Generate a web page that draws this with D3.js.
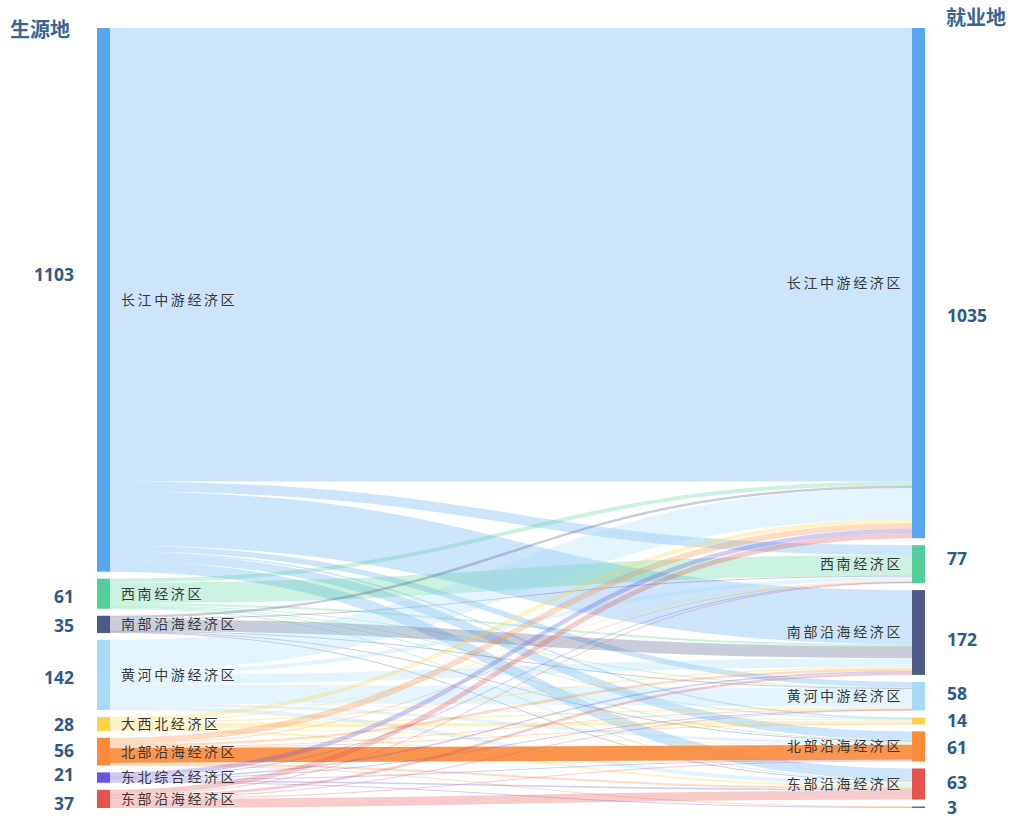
<!DOCTYPE html>
<html>
<head>
<meta charset="utf-8">
<script src="https://cdn.jsdelivr.net/npm/d3@7"></script>
<style>
  html, body { margin: 0; padding: 0; background: #fff; }
  svg { display: block; }
</style>
</head>
<body>
<svg id="chart" width="1017" height="819"></svg>
<script>
// ---------- DATA ----------
const sourceNodes = ["长江中游经济区","西南经济区","南部沿海经济区","黄河中游经济区","大西北经济区","北部沿海经济区","东北综合经济区","东部沿海经济区"];
const targetNodes = ["长江中游经济区","西南经济区","南部沿海经济区","黄河中游经济区","大西北经济区","北部沿海经济区","东部沿海经济区","东北综合经济区"];
const sourceTotals = [1103, 61, 35, 142, 28, 56, 21, 37];
const targetTotals = [1035, 77, 172, 58, 14, 61, 63, 3];
// rows: sourceNodes order, columns: targetNodes order
const flows = [
  [920, 20, 110, 11, 3, 17, 22, 0],
  [8, 42, 4, 2, 1, 2, 2, 0],
  [5, 2, 24, 1, 0, 1, 2, 0],
  [63, 8, 18, 37, 2, 6, 8, 0],
  [8, 2, 3, 3, 7, 1, 4, 0],
  [12, 1, 5, 2, 1, 30, 4, 1],
  [9, 1, 3, 1, 0, 2, 3, 2],
  [10, 1, 5, 1, 0, 2, 18, 0]
];
const leftTitle = "生源地";
const rightTitle = "就业地";

// ---------- STYLE ----------
const colorOf = {
  "长江中游经济区": "#55a8ee",
  "西南经济区": "#52cf98",
  "南部沿海经济区": "#4b5b86",
  "黄河中游经济区": "#a6daf7",
  "大西北经济区": "#fdd347",
  "北部沿海经济区": "#fb8a3a",
  "东北综合经济区": "#6655e0",
  "东部沿海经济区": "#e5534f"
};
const plotTop = 28, plotBottom = 808, gap = 7, nodeW = 13;
const leftX = 97, rightX = 912;
const leftValOffset = [-25, 3, 1, 3, 1, -1, -3, 5];
const rightValOffset = [33, -5, 7, -2, 0, 1, -1, 1];

const svg = d3.select("#chart");
const total = d3.sum(sourceTotals);
const k = d3.scaleLinear().domain([0, total]).range([0, (plotBottom - plotTop) - gap * (sourceNodes.length - 1)]);

function layoutColumn(names, totals, x) {
  let y = plotTop;
  return names.map((n, i) => {
    const node = { name: n, value: totals[i], x0: x, x1: x + nodeW, y0: y, y1: y + k(totals[i]) };
    y = node.y1 + gap;
    return node;
  });
}
const L = layoutColumn(sourceNodes, sourceTotals, leftX);
const R = layoutColumn(targetNodes, targetTotals, rightX);

// build links
const links = [];
flows.forEach((row, i) => row.forEach((v, j) => {
  if (v > 0) links.push({ source: L[i], target: R[j], value: v, si: i, tj: j });
}));
L.forEach((n, i) => {
  let y = n.y0;
  links.filter(l => l.si === i).sort((a, b) => a.tj - b.tj).forEach(l => {
    l.width = k(l.value); l.y0 = y + l.width / 2; y += l.width;
  });
});
R.forEach((n, j) => {
  let y = n.y0;
  links.filter(l => l.tj === j).sort((a, b) => a.si - b.si).forEach(l => {
    l.y1 = y + l.width / 2; y += l.width;
  });
});

const linkGen = d3.linkHorizontal()
  .source(l => [l.source.x1, l.y0])
  .target(l => [l.target.x0, l.y1]);

svg.append("g").attr("fill", "none")
  .selectAll("path").data(links).join("path")
  .attr("d", linkGen)
  .attr("stroke", l => colorOf[l.source.name])
  .attr("stroke-opacity", l => (l.source.name === "北部沿海经济区" && l.target.name === "北部沿海经济区") ? 0.9 : 0.3)
  .attr("stroke-width", l => Math.max(1, l.width));

// nodes
svg.append("g").selectAll("rect").data(L.concat(R)).join("rect")
  .attr("x", d => d.x0).attr("y", d => d.y0)
  .attr("width", nodeW).attr("height", d => Math.max(1.5, d.y1 - d.y0))
  .attr("fill", d => colorOf[d.name]);

// name labels
const nameFont = "'Noto Sans CJK SC', 'Noto Sans', sans-serif";
svg.append("g").selectAll("text").data(L).join("text")
  .attr("x", d => d.x1 + 11).attr("y", d => (d.y0 + d.y1) / 2)
  .attr("dy", "0.35em").attr("font-family", nameFont).attr("font-size", 14)
  .attr("letter-spacing", 2.6)
  .attr("fill", "#3a3a3a").text(d => d.name);
svg.append("g").selectAll("text").data(R.filter(d => d.value >= 20)).join("text")
  .attr("x", d => d.x0 - 9).attr("y", d => (d.y0 + d.y1) / 2)
  .attr("dy", "0.35em").attr("text-anchor", "end").attr("font-family", nameFont).attr("font-size", 14)
  .attr("letter-spacing", 2.6)
  .attr("fill", "#3a3a3a").text(d => d.name);

// value labels
const numFont = "'Open Sans', 'DejaVu Sans', sans-serif";
const valColor = "#2d5a86";
svg.append("g").selectAll("text").data(L).join("text")
  .attr("x", 74).attr("y", (d, i) => (d.y0 + d.y1) / 2 + leftValOffset[i])
  .attr("dy", "0.35em").attr("text-anchor", "end")
  .attr("font-family", numFont).attr("font-weight", "bold").attr("font-size", 17.5)
  .attr("fill", valColor).text(d => d.value);
svg.append("g").selectAll("text").data(R).join("text")
  .attr("x", 947).attr("y", (d, i) => (d.y0 + d.y1) / 2 + rightValOffset[i])
  .attr("dy", "0.35em").attr("text-anchor", "start")
  .attr("font-family", numFont).attr("font-weight", "bold").attr("font-size", 17.5)
  .attr("fill", valColor).text(d => d.value);

// titles
svg.append("text").attr("x", 10).attr("y", 30).attr("dy", "0.35em")
  .attr("font-family", nameFont).attr("font-weight", "bold").attr("font-size", 20)
  .attr("fill", "#3a6590").text(leftTitle);
svg.append("text").attr("x", 946).attr("y", 18).attr("dy", "0.35em")
  .attr("font-family", nameFont).attr("font-weight", "bold").attr("font-size", 20)
  .attr("fill", "#3a6590").text(rightTitle);
</script>
</body>
</html>
